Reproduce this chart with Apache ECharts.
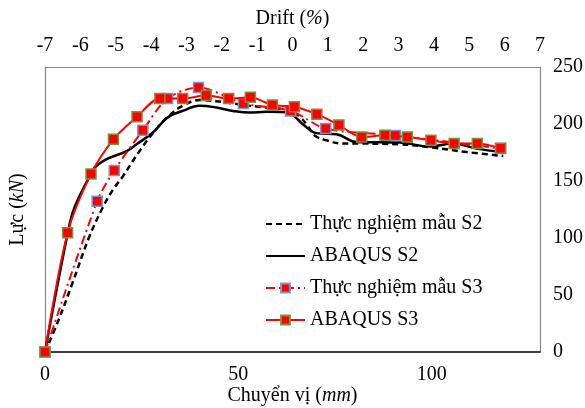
<!DOCTYPE html>
<html>
<head>
<meta charset="utf-8">
<script src="https://cdn.jsdelivr.net/npm/echarts@6/dist/echarts.min.js"></script>
<style>
html,body{margin:0;padding:0;background:#fff;}
#chart{width:585px;height:408px;}
</style>
</head>
<body>
<div id="chart"></div>
<script>
// Displacement (mm) and force (kN) readings
var s2TestX = [0, 3.5, 7.1, 11.5, 14.9, 17.5, 20.1, 24.4, 28.7, 32, 35.6, 40, 44.3, 48.6, 52.9, 57.2, 61.5, 64, 66, 68, 69.7, 72.8, 76.9, 81.4, 91.7, 100.4, 109, 118.5];
var s2TestY = [0, 28, 60.5, 101.5, 126.5, 142, 154, 176, 195.4, 207, 216, 221, 220, 218, 216, 214.5, 213, 210.5, 206, 198, 190, 185.7, 182.8, 182.8, 182.2, 179.3, 175.4, 172];

var s2AbqX = [0, 5.8, 7.6, 11.5, 12.8, 15.8, 21, 23.6, 27.9, 31.7, 35.6, 40, 44.3, 48.6, 52.9, 57.2, 61.5, 64.1, 66.7, 70.2, 75.4, 80.5, 91.7, 99.5, 105.5, 111.6, 118];
var s2AbqY = [0, 103, 126.5, 154, 161.7, 169, 176, 182, 192.5, 205.7, 211.5, 216, 214.5, 211.5, 210, 210.7, 210.5, 207.7, 199.8, 192, 191, 184.2, 183.7, 180.2, 182.8, 178.4, 175.4];

var s3TestX = [0, 13.5, 17.9, 25.3, 31.7, 39.7, 51.3, 63.5, 72.6, 90.6, 117.8];
var s3TestY = [0, 132.3, 159.3, 194.5, 222.4, 232, 218, 211.5, 196, 190, 178.5];

var s3AbqX = [0, 5.85, 11.9, 17.7, 23.8, 29.7, 35.6, 41.7, 47.5, 53.1, 58.8, 64.5, 70.3, 76, 81.9, 87.9, 93.7, 99.8, 105.8, 111.8, 117.8];
var s3AbqY = [0, 104.5, 156.2, 186.6, 206.3, 222.4, 222.4, 225, 222.4, 223.4, 216.6, 215.2, 208.6, 199.1, 188.5, 190.1, 188.5, 185.7, 182.9, 182.9, 178.8];

var seriesNames = ['Thực nghiệm mẫu S2', 'ABAQUS S2', 'Thực nghiệm mẫu S3', 'ABAQUS S3'];
var driftTicks = [-7, 7, 1];
var forceTicks = [0, 250, 50];
var dispTicks = [0, 128, 50];

function pairs(xs, ys) { return xs.map(function (x, i) { return [x, ys[i]]; }); }

var FONT = 'Liberation Serif';
var FS = 20;
function richName() {
  return {rich: {n: {fontFamily: FONT, fontSize: FS, color: '#000'}, i: {fontFamily: FONT, fontSize: FS, fontStyle: 'italic', color: '#000'}}};
}
var hiddenSymbol = {color: 'rgba(0,0,0,0)', borderWidth: 0, opacity: 0};
var chart = echarts.init(document.getElementById('chart'), null, {renderer: 'canvas'});
chart.setOption({
  animation: false,
  backgroundColor: '#fff',
  textStyle: {fontFamily: FONT},
  grid: {left: 45, right: 45, top: 67, bottom: 56, containLabel: false, outerBoundsMode: 'none'},
  legend: {
    orient: 'vertical', left: 260, top: 209,
    itemWidth: 39, itemHeight: 11, itemGap: 12,
    textStyle: {fontFamily: FONT, fontSize: FS, color: '#000', lineHeight: 20},
    data: [
      {name: seriesNames[0], itemStyle: hiddenSymbol},
      {name: seriesNames[1], itemStyle: hiddenSymbol},
      {name: seriesNames[2]},
      {name: seriesNames[3]}
    ]
  },
  xAxis: [{
    type: 'value', position: 'bottom', min: dispTicks[0], max: dispTicks[1], interval: dispTicks[2],
    axisLine: {show: true, onZero: false, lineStyle: {color: '#000', width: 1.5}},
    axisTick: {show: false}, splitLine: {show: false},
    axisLabel: {fontFamily: FONT, fontSize: FS, color: '#000', margin: 13,
      formatter: function (v) { return v % 50 === 0 && v <= 100 ? String(v) : ''; }},
    name: '{n|Chuyển vị (}{i|mm}{n|)}', nameLocation: 'middle', nameGap: 34, nameMoveOverlap: false,
    nameTextStyle: richName()
  }, {
    type: 'value', position: 'top', min: driftTicks[0], max: driftTicks[1], interval: driftTicks[2],
    axisLine: {show: true, onZero: false, lineStyle: {color: '#888', width: 1.2}},
    axisTick: {show: false}, splitLine: {show: false},
    axisLabel: {fontFamily: FONT, fontSize: FS, color: '#000', margin: 11},
    name: '{n|Drift (}{i|%}{n|)}', nameLocation: 'middle', nameGap: 38, nameMoveOverlap: false,
    nameTextStyle: richName()
  }],
  yAxis: [{
    type: 'value', position: 'right', min: forceTicks[0], max: forceTicks[1], interval: forceTicks[2],
    axisLine: {show: true, onZero: false, lineStyle: {color: '#888', width: 1.2}},
    axisTick: {show: false}, splitLine: {show: false},
    axisLabel: {fontFamily: FONT, fontSize: FS, color: '#000', margin: 13, align: 'left'}
  }, {
    type: 'value', position: 'left', min: forceTicks[0], max: forceTicks[1], interval: forceTicks[2],
    axisLine: {show: true, onZero: false, lineStyle: {color: '#888', width: 1.2}},
    axisTick: {show: false}, splitLine: {show: false}, axisLabel: {show: false},
    name: '{n|Lực (}{i|kN}{n|)}', nameLocation: 'middle', nameGap: 17, nameMoveOverlap: false,
    nameTextStyle: richName()
  }],
  series: [{
    name: seriesNames[0], type: 'line', xAxisIndex: 0, yAxisIndex: 0,
    data: pairs(s2TestX, s2TestY), smooth: 0.4, showSymbol: false, symbol: 'none',
    lineStyle: {color: '#000', width: 2.5, type: [6, 4]}, itemStyle: {color: '#000'}, z: 2
  }, {
    name: seriesNames[1], type: 'line', xAxisIndex: 0, yAxisIndex: 0,
    data: pairs(s2AbqX, s2AbqY), smooth: 0.4, showSymbol: false, symbol: 'none',
    lineStyle: {color: '#000', width: 2.5}, itemStyle: {color: '#000'}, z: 2
  }, {
    name: seriesNames[2], type: 'line', xAxisIndex: 0, yAxisIndex: 0,
    data: pairs(s3TestX, s3TestY), smooth: 0.3, symbol: 'rect', symbolSize: 10,
    lineStyle: {color: '#ff0000', width: 2, type: [9, 4, 2, 4]},
    itemStyle: {color: '#ff0000', borderColor: '#7a93c8', borderWidth: 1.5}, z: 3
  }, {
    name: seriesNames[3], type: 'line', xAxisIndex: 0, yAxisIndex: 0,
    data: pairs(s3AbqX, s3AbqY), smooth: 0.3, symbol: 'rect', symbolSize: 10,
    lineStyle: {color: '#ff0000', width: 2},
    itemStyle: {color: '#ff0000', borderColor: '#77933c', borderWidth: 1.5}, z: 4
  }]
});
</script>
</body>
</html>
